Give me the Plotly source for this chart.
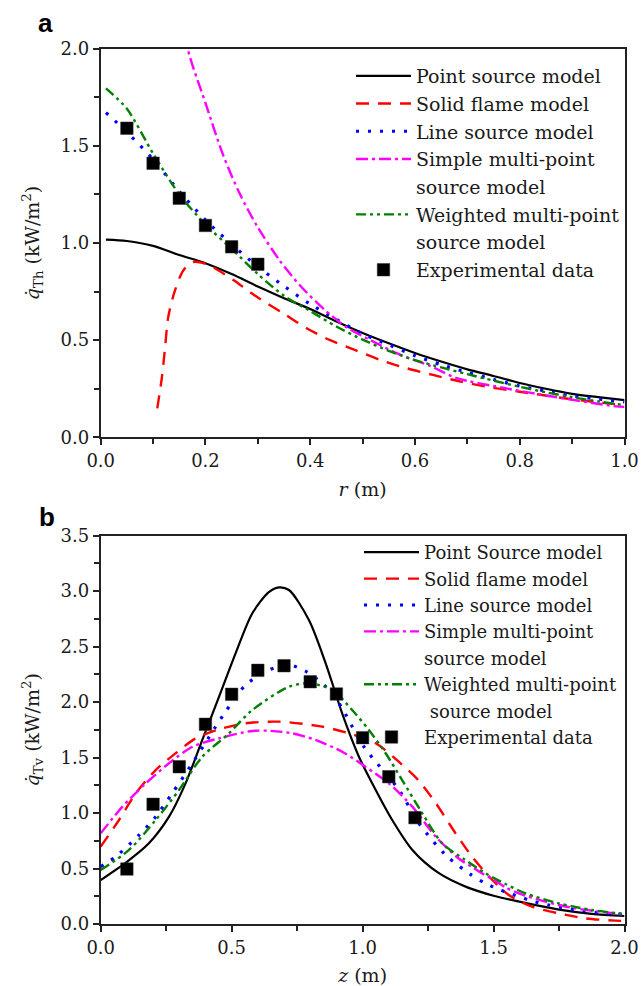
import plotly.graph_objects as go

# ---------------- Panel a data (r in m, q_Th in kW/m2) ----------------
r_point = [0.01, 0.05, 0.1, 0.15, 0.2, 0.25, 0.3, 0.35, 0.4, 0.45, 0.5, 0.55, 0.6, 0.65, 0.7, 0.75, 0.8, 0.85, 0.9, 0.95, 1.0]
q_point = [1.017, 1.010, 0.985, 0.938, 0.896, 0.840, 0.776, 0.716, 0.66, 0.596, 0.537, 0.484, 0.434, 0.39, 0.35, 0.316, 0.28, 0.25, 0.224, 0.207, 0.192]

r_solid = [0.108, 0.117, 0.123, 0.129, 0.142, 0.158, 0.177, 0.2, 0.215, 0.254, 0.298, 0.349, 0.394, 0.438, 0.486, 0.534, 0.585, 0.636, 0.687, 0.738, 0.8, 0.9, 1.0]
q_solid = [0.149, 0.312, 0.466, 0.62, 0.757, 0.86, 0.902, 0.893, 0.875, 0.808, 0.723, 0.637, 0.56, 0.5, 0.449, 0.398, 0.355, 0.32, 0.287, 0.26, 0.235, 0.196, 0.166]

r_line = [0.01, 0.05, 0.1, 0.15, 0.2, 0.25, 0.3, 0.35, 0.4, 0.45, 0.5, 0.55, 0.6, 0.65, 0.7, 0.75, 0.8, 0.85, 0.9, 0.95, 1.0]
q_line = [1.67, 1.57, 1.43, 1.265, 1.118, 0.993, 0.878, 0.778, 0.685, 0.607, 0.532, 0.476, 0.42, 0.374, 0.334, 0.298, 0.264, 0.238, 0.213, 0.197, 0.183]

r_simple = [0.15, 0.166, 0.2, 0.234, 0.266, 0.3, 0.343, 0.381, 0.426, 0.47, 0.515, 0.566, 0.63, 0.68, 0.77, 0.865, 0.98, 1.0]
q_simple = [2.3, 2.0, 1.72, 1.45, 1.25, 1.08, 0.905, 0.78, 0.66, 0.565, 0.5, 0.432, 0.366, 0.305, 0.254, 0.209, 0.161, 0.157]

r_weighted = [0.01, 0.05, 0.1, 0.15, 0.2, 0.25, 0.3, 0.35, 0.4, 0.45, 0.5, 0.55, 0.6, 0.65, 0.7, 0.75, 0.8, 0.85, 0.9, 0.95, 1.0]
q_weighted = [1.795, 1.69, 1.46, 1.25, 1.095, 0.97, 0.84, 0.728, 0.65, 0.57, 0.503, 0.445, 0.397, 0.36, 0.325, 0.292, 0.26, 0.232, 0.207, 0.185, 0.166]

r_exp = [0.05, 0.1, 0.15, 0.2, 0.25, 0.3]
q_exp = [1.59, 1.41, 1.23, 1.09, 0.98, 0.89]

# ---------------- Panel b data (z in m, q_Tv in kW/m2) ----------------
z_point = [0, 0.1, 0.184, 0.261, 0.324, 0.388, 0.452, 0.515, 0.579, 0.642, 0.681, 0.719, 0.795, 0.859, 0.922, 0.986, 1.05, 1.113, 1.19, 1.29, 1.4, 1.5, 1.62, 1.75, 1.875, 2.0]
v_point = [0.396, 0.56, 0.727, 0.967, 1.267, 1.658, 2.048, 2.438, 2.799, 2.99, 3.033, 3.009, 2.739, 2.349, 1.898, 1.507, 1.207, 0.937, 0.667, 0.46, 0.33, 0.255, 0.19, 0.13, 0.092, 0.072]

z_solid = [0, 0.07, 0.134, 0.21, 0.286, 0.363, 0.452, 0.553, 0.681, 0.846, 0.948, 1.05, 1.139, 1.215, 1.279, 1.355, 1.418, 1.49, 1.558, 1.647, 1.749, 1.851, 1.965, 2.0]
v_solid = [0.697, 0.937, 1.177, 1.387, 1.538, 1.673, 1.754, 1.808, 1.823, 1.778, 1.718, 1.628, 1.46, 1.29, 1.09, 0.817, 0.606, 0.41, 0.261, 0.156, 0.096, 0.051, 0.03, 0.028]

z_line = [0, 0.057, 0.146, 0.21, 0.273, 0.35, 0.439, 0.477, 0.553, 0.642, 0.719, 0.78, 0.85, 0.91, 1.005, 1.139, 1.215, 1.317, 1.412, 1.469, 1.527, 1.59, 1.647, 1.711, 1.775, 1.838, 1.902, 1.966, 2.0]
v_line = [0.516, 0.606, 0.8, 0.967, 1.177, 1.448, 1.778, 1.913, 2.153, 2.288, 2.333, 2.28, 2.16, 1.988, 1.597, 1.207, 0.907, 0.622, 0.447, 0.366, 0.306, 0.252, 0.207, 0.171, 0.141, 0.12, 0.102, 0.09, 0.085]

z_simple = [0, 0.083, 0.172, 0.261, 0.35, 0.452, 0.579, 0.65, 0.731, 0.82, 0.922, 1.011, 1.1, 1.19, 1.279, 1.367, 1.42, 1.46, 1.5, 1.546, 1.597, 1.698, 1.812, 1.94, 2.0]
v_simple = [0.817, 1.057, 1.267, 1.448, 1.597, 1.673, 1.739, 1.74, 1.718, 1.658, 1.552, 1.417, 1.267, 1.057, 0.787, 0.59, 0.51, 0.45, 0.4, 0.33, 0.276, 0.201, 0.141, 0.102, 0.085]

z_weighted = [0, 0.108, 0.21, 0.299, 0.388, 0.49, 0.579, 0.719, 0.795, 0.884, 0.96, 1.024, 1.088, 1.151, 1.228, 1.304, 1.39, 1.47, 1.546, 1.622, 1.749, 1.876, 2.0]
v_weighted = [0.486, 0.667, 0.937, 1.207, 1.507, 1.718, 1.928, 2.138, 2.168, 2.108, 1.928, 1.748, 1.538, 1.297, 0.997, 0.727, 0.58, 0.456, 0.36, 0.276, 0.186, 0.126, 0.09]

z_exp = [0.1, 0.2, 0.3, 0.4, 0.5, 0.6, 0.7, 0.8, 0.9, 1.0, 1.1, 1.2]
v_exp = [0.495, 1.078, 1.417, 1.799, 2.069, 2.285, 2.327, 2.183, 2.072, 1.679, 1.327, 0.958]

names_a = ["Point source model", "Solid flame model", "Line source model",
           "Simple multi-point", "source model", "Weighted multi-point", "source model",
           "Experimental data"]
names_b = ["Point Source model", "Solid flame model", "Line source model",
           "Simple multi-point", "source model", "Weighted multi-point", "\u00a0source model",
           "Experimental data"]

# ---------------- styling ----------------
W, H = 643, 986
SERIF = "DejaVu Serif, Liberation Serif, serif"
styles = [
    dict(color="#000000", width=2.2, dash="solid"),
    dict(color="#FF0000", width=2.4, dash="13px,9px"),
    dict(color="#0000FF", width=3.2, dash="3px,9px"),
    dict(color="#FF00FF", width=2.4, dash="12px,4px,3px,4px"),
    dict(color="#008000", width=2.4, dash="10px,4px,3px,4px,3px,4px"),
]

fig = go.Figure()


def add_panel(xs, ys, xexp, yexp, names, xa, ya, leg):
    order = [0, 1, 2, 3, None, 4, None]
    for i, idx in enumerate(order):
        if idx is None:
            fig.add_trace(go.Scatter(x=[None], y=[None], mode="lines",
                                     line=dict(color="rgba(0,0,0,0)", width=1),
                                     name=names[i], xaxis=xa, yaxis=ya, legend=leg,
                                     hoverinfo="skip"))
        else:
            fig.add_trace(go.Scatter(x=xs[idx], y=ys[idx], mode="lines",
                                     line=dict(shape="spline", smoothing=0.8, **styles[idx]),
                                     name=names[i], xaxis=xa, yaxis=ya, legend=leg))
    fig.add_trace(go.Scatter(x=xexp, y=yexp, mode="markers",
                             marker=dict(symbol="square", size=12.5, color="black",
                                         line=dict(color="#333", width=0.5)),
                             name=names[7], xaxis=xa, yaxis=ya, legend=leg))


add_panel([r_point, r_solid, r_line, r_simple, r_weighted],
          [q_point, q_solid, q_line, q_simple, q_weighted],
          r_exp, q_exp, names_a, "x", "y", "legend")
add_panel([z_point, z_solid, z_line, z_simple, z_weighted],
          [v_point, v_solid, v_line, v_simple, v_weighted],
          z_exp, v_exp, names_b, "x2", "y2", "legend2")

x0, x1 = 100.7 / W, 624.5 / W
ya_dom = [1 - 437.4 / H, 1 - 48.5 / H]
yb_dom = [1 - 924.0 / H, 1 - 535.5 / H]

tickfont = dict(family=SERIF, size=18, color="#1a1a1a")
titlefont = dict(family=SERIF, size=19, color="#1a1a1a")


def axis(rng, dtick, mdtick, domain, anchor, title, standoff):
    return dict(range=rng, domain=domain, anchor=anchor, dtick=dtick, tick0=0,
                automargin=False,
                tickformat=".1f", ticks="outside", ticklen=6, tickwidth=1.5,
                tickcolor="#222", showline=True, linecolor="#222", linewidth=2,
                mirror=True, showgrid=False, zeroline=False, tickfont=tickfont,
                minor=dict(dtick=mdtick, tick0=0, ticks="outside", ticklen=5,
                           tickwidth=1.5, tickcolor="#222", showgrid=False),
                title=dict(text=title, font=titlefont, standoff=standoff))


fig.update_layout(
    template="none",
    width=W, height=H, margin=dict(l=0, r=0, t=0, b=0, pad=0, autoexpand=False),
    paper_bgcolor="white", plot_bgcolor="white", showlegend=True,
    font=dict(family=SERIF, size=18, color="#1a1a1a"),
    xaxis=axis([0, 1], 0.2, 0.1, [x0, x1], "y", "<i>r</i> (m)", 13),
    yaxis=axis([0, 2], 0.5, 0.25, ya_dom, "x",
               "<i>q\u0307</i><sub>Th</sub> (kW/m<sup>2</sup>)", 16),
    xaxis2=axis([0, 2], 0.5, 0.25, [x0, x1], "y2", "<i>z</i> (m)", 13),
    yaxis2=axis([0, 3.5], 0.5, 0.25, yb_dom, "x2",
                "<i>q\u0307</i><sub>Tv</sub> (kW/m<sup>2</sup>)", 16),
    legend=dict(x=351 / W, y=1 - 57 / H, xanchor="left", yanchor="top",
                font=dict(family=SERIF, size=19, color="#1a1a1a"),
                bgcolor="rgba(0,0,0,0)", itemwidth=55, tracegroupgap=0),
    legend2=dict(x=359 / W, y=1 - 534 / H, xanchor="left", yanchor="top",
                 font=dict(family=SERIF, size=18, color="#1a1a1a"),
                 bgcolor="rgba(0,0,0,0)", itemwidth=55, tracegroupgap=0),
    annotations=[
        dict(text="<b>a</b>", x=45 / W, y=1 - 23 / H, xref="paper", yref="paper",
             xanchor="center", yanchor="middle", showarrow=False,
             font=dict(family="Liberation Sans, Arial, sans-serif", size=26, color="black")),
        dict(text="<b>b</b>", x=47 / W, y=1 - 517 / H, xref="paper", yref="paper",
             xanchor="center", yanchor="middle", showarrow=False,
             font=dict(family="Liberation Sans, Arial, sans-serif", size=26, color="black")),
    ],
)

fig.write_html("out.html")
